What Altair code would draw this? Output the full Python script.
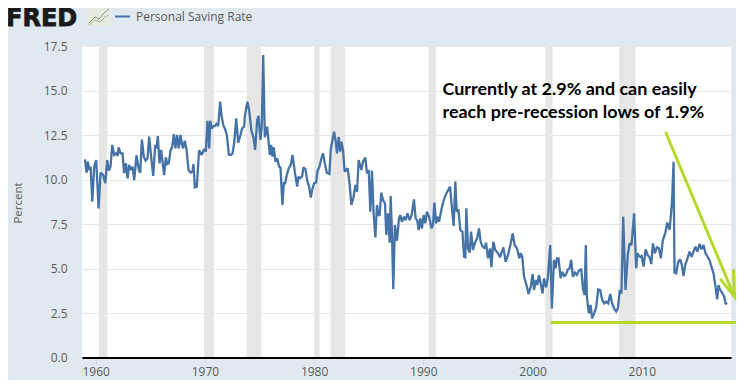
import altair as alt
import pandas as pd

years_a = [1959.02,1959.17,1959.29,1959.41,1959.54,1959.69,1959.87,1960.05,1960.27,1960.45,1960.69,1960.88,1961.06,1961.21,1961.36,1961.52,1961.70,1961.88,1962.01,1962.10,1962.28,1962.46,1962.61,1962.77,1962.92,1963.07,1963.22,1963.38,1963.53,1963.74,1963.96,1964.08,1964.23,1964.41,1964.57,1964.75,1964.90,1965.08,1965.27,1965.45,1965.57,1965.69,1965.85,1966.00,1966.27,1966.43,1966.55,1966.70,1966.85,1967.01,1967.16,1967.31,1967.46,1967.61,1967.77,1967.89,1968.01,1968.16,1968.32,1968.50,1968.71,1968.86,1968.96,1969.08,1969.26,1969.47,1969.69,1969.90,1970.00]
rates_a = [11.13,10.38,11.0,10.53,10.72,8.76,10.72,11.09,8.38,10.38,10.25,9.79,11.09,10.5,10.72,11.94,11.38,11.47,11.32,11.81,11.47,11.47,10.35,10.91,10.07,10.82,10.53,10.72,9.97,11.36,10.53,10.38,12.25,11.28,11.06,11.19,12.41,11.28,10.2,11.94,11.75,12.44,10.91,11.66,10.25,11.25,10.87,10.91,11.62,11.84,12.55,11.75,12.5,11.75,12.5,12.03,11.75,12.18,11.69,10.53,10.38,10.44,10.87,9.56,9.6,11.66,11.38,11.66,11.69]

years_b = [1970.09,1970.24,1970.40,1970.49,1970.64,1970.76,1970.91,1971.07,1971.22,1971.40,1971.52,1971.68,1971.83,1972.01,1972.20,1972.38,1972.53,1972.68,1972.87,1973.05,1973.26,1973.41,1973.60,1973.66,1973.78,1973.90,1974.05,1974.27,1974.45,1974.60,1974.79,1974.91,1975.09,1975.21,1975.34,1975.49,1975.70,1975.95,1976.07,1976.19,1976.31,1976.46,1976.62,1976.80,1976.92,1977.10,1977.23,1977.35,1977.50,1977.68,1977.87,1978.02,1978.23,1978.45,1978.57,1978.72,1978.90,1979.02,1979.21,1979.39,1979.54,1979.70,1979.82,1980.00,1980.18,1980.30,1980.49,1980.67,1980.82,1980.98,1981.16,1981.40,1981.52,1981.68,1981.83]
rates_b = [11.56,13.3,11.75,13.3,12.87,13.0,13.0,13.12,13.0,14.37,13.62,13.06,12.87,12.5,11.38,11.38,11.47,12.03,13.44,12.07,12.5,12.87,12.97,13.53,14.0,14.37,13.9,12.69,12.37,11.66,13.34,13.57,12.22,12.97,17.0,12.37,12.97,11.38,11.94,11.28,11.81,11.0,11.19,10.72,10.68,8.57,9.79,9.79,10.25,10.63,10.82,11.38,10.44,9.6,10.16,10.07,10.16,10.68,10.57,9.88,9.6,8.98,9.41,9.79,9.82,10.44,10.72,11.19,11.47,10.91,10.38,10.31,11.66,12.22,12.69]

years_c = [1981.98,1982.10,1982.25,1982.40,1982.50,1982.65,1982.80,1982.95,1983.08,1983.26,1983.41,1983.59,1983.78,1983.93,1984.08,1984.33,1984.48,1984.69,1984.84,1985.00,1985.15,1985.30,1985.45,1985.61,1985.76,1985.88,1986.00,1986.15,1986.31,1986.49,1986.61,1986.76,1986.92,1987.01,1987.13,1987.25,1987.40,1987.59,1987.77,1987.89,1988.04,1988.23,1988.38,1988.56,1988.75,1988.93,1989.14,1989.30,1989.45,1989.57,1989.72,1989.87,1990.03,1990.18,1990.33,1990.51]
rates_c = [12.12,11.47,12.40,11.56,12.12,11.65,10.44,10.53,10.63,9.69,8.57,8.94,9.69,9.32,11.09,10.53,11.0,11.24,10.34,10.53,8.19,10.5,8.1,6.75,8.57,8.0,8.0,9.26,8.85,8.66,6.88,8.1,6.45,9.07,6.97,3.83,7.44,6.56,7.82,8.0,7.63,7.91,7.72,8.1,7.72,8.0,8.88,7.82,7.69,7.16,7.82,7.25,8.0,7.54,8.19,7.91]

years_d = [1990.56,1990.74,1990.89,1991.01,1991.17,1991.29,1991.44,1991.59,1991.75,1991.93,1992.11,1992.45,1992.63,1992.78,1992.93,1993.06,1993.21,1993.39,1993.58,1993.73,1993.85,1993.94,1994.09,1994.25,1994.37,1994.55,1994.70,1994.92,1995.10,1995.25,1995.40,1995.62,1995.74,1995.92,1996.11,1996.23,1996.41,1996.59,1996.84,1997.02,1997.33,1997.54,1997.75,1997.97,1998.18,1998.36,1998.58,1998.79,1998.91,1999.06,1999.22,1999.40,1999.64,1999.83,2000.01,2000.13,2000.31,2000.43,2000.59,2000.77,2000.92,2001.05]
rates_d = [7.82,7.26,7.45,8.7,7.54,7.91,7.63,8.1,8.57,8.94,9.22,9.6,8.29,7.39,9.88,8.19,8.32,7.16,7.07,5.66,5.63,8.38,6.13,5.89,7.07,6.04,6.41,6.69,7.26,6.5,6.26,6.13,6.45,5.57,6.13,5.07,6.5,6.04,5.85,5.63,6.19,5.38,5.75,6.32,6.97,6.32,6.13,5.57,5.85,5.66,4.54,4.17,3.57,3.98,4.69,3.79,4.35,4.07,4.63,4.07,3.6,4.44]

years_e = [2001.25,2001.41,2001.62,2001.77,2001.96,2002.11,2002.23,2002.38,2002.57,2002.72,2002.90,2003.08,2003.24,2003.39,2003.54,2003.69,2003.88,2004.06,2004.24,2004.46,2004.61,2004.76,2004.88,2004.97,2005.16,2005.31,2005.46,2005.64,2005.83,2006.01,2006.19,2006.38,2006.56,2006.74,2006.93,2007.11,2007.29,2007.47,2007.66,2007.81,2007.99,2008.14,2008.30,2008.51,2008.72,2008.88,2009.06,2009.30,2009.49,2009.61,2009.79]
rates_e = [3.94,4.54,6.32,2.76,5.48,5.01,5.57,5.57,4.45,4.82,4.54,4.69,4.95,5.01,5.48,4.54,4.77,4.64,4.88,4.95,3.89,3.51,6.32,3.42,2.48,2.95,2.2,2.48,2.82,3.83,3.79,3.23,3.04,3.14,3.04,3.57,3.04,2.76,2.58,2.76,3.79,3.6,7.91,3.79,5.76,6.41,6.32,8.1,5.01,5.85,5.67]

years_f = [2009.86,2009.98,2010.17,2010.35,2010.53,2010.71,2010.87,2011.02,2011.20,2011.38,2011.57,2011.75,2011.93,2012.15,2012.33,2012.54,2012.70,2012.79,2012.91,2013.00,2013.15,2013.34,2013.52,2013.67,2013.82,2013.98,2014.16,2014.37,2014.56,2014.74,2014.92,2015.10,2015.29,2015.47,2015.65,2015.84,2016.02,2016.20,2016.38,2016.57,2016.75,2016.90,2017.02,2017.18,2017.36,2017.54,2017.67,2017.82]
rates_f = [5.66,5.70,5.10,6.08,5.76,5.63,5.25,6.41,5.85,6.19,6.13,5.57,6.60,6.98,7.58,7.17,8.19,9.04,10.99,4.77,4.73,5.38,5.51,5.2,4.58,5.2,5.51,5.95,5.66,5.95,6.23,5.95,6.38,6.08,6.32,5.85,5.66,5.48,5.1,4.73,3.98,3.27,4.07,3.79,3.65,3.42,3.05,2.99]

rec_start = [1960.29,1969.92,1973.83,1980.0,1981.5,1990.5,2001.17,2007.92]
rec_end = [1961.08,1970.83,1975.17,1980.5,1982.83,1991.17,2001.83,2009.42]
x_ticks = [1960,1970,1980,1990,2000,2010]
y_ticks = [0,2.5,5,7.5,10,12.5,15,17.5]

years = years_a + years_b + years_c + years_d + years_e + years_f
rates = rates_a + rates_b + rates_c + rates_d + rates_e + rates_f
series = pd.DataFrame({"year": years, "rate": rates, "order": range(len(years))})
recessions = pd.DataFrame({"start": rec_start, "end": rec_end})

BG = "#e1e9f0"
GREEN = "#b4d92b"
LINE = "#4572a7"
XD = [1958.75, 2018.17]
x_s = alt.Scale(domain=XD, nice=False, zero=False)
y_s = alt.Scale(domain=[0, 17.5], nice=False, zero=False)

x_axis = alt.Axis(
    values=x_ticks, format="d", title=None, grid=False, domainColor="#000000", domainWidth=2,
    tickColor="#d0d6da", tickSize=6, labelFont="Open Sans", labelFontSize=12, labelColor="#595959",
    labelPadding=3, zindex=1, labelFlush=False)
y_axis = alt.Axis(
    values=y_ticks, format=".1f", title=None, domain=False, ticks=False, gridColor="#e6e6e6",
    labelFont="Open Sans", labelFontSize=12, labelColor="#595959", labelPadding=15)

band = alt.Chart(recessions).mark_rect(color="#e6e6e6").encode(
    x=alt.X("start:Q", scale=x_s, axis=x_axis), x2="end:Q")

main = alt.Chart(series).mark_line(color=LINE, strokeWidth=2.3, strokeJoin="miter", strokeMiterLimit=2).encode(
    x=alt.X("year:Q", scale=x_s, axis=x_axis),
    y=alt.Y("rate:Q", scale=y_s, axis=y_axis),
    order="order:Q")


def data_line(xs, ys, color, width):
    d = pd.DataFrame({"x": xs, "y": ys, "o": range(len(xs))})
    return alt.Chart(d).mark_line(color=color, strokeWidth=width, clip=False).encode(
        x=alt.X("x:Q", scale=x_s, axis=x_axis), y=alt.Y("y:Q", scale=y_s, axis=y_axis), order="o:Q")


floor = data_line([2001.66, 2019.4], [1.97, 1.97], GREEN, 3)
arrow = data_line([2012.18, 2018.49], [12.67, 3.41], GREEN, 3)
head = data_line([2018.40, 2018.49, 2017.18], [4.96, 3.41, 4.42], GREEN, 3)


def text(s, x, y, **kw):
    return alt.Chart(pd.DataFrame({"a": [0]})).mark_text(align="left", baseline="alphabetic", **kw).encode(
        x=alt.value(x), y=alt.value(y), text=alt.value(s))


OX, OY = 82, 46
note1 = text("Currently at 2.9% and can easily", 442.5 - OX, 95 - OY, font="Lato", fontWeight="bold", fontSize=17.95, color="#000000")
note2 = text("reach pre-recession lows of 1.9%", 442.5 - OX, 118 - OY, font="Lato", fontWeight="bold", fontSize=17.95, color="#000000")
logo = text("FRED", 6 - OX, 26 - OY, font="DejaVu Sans", fontWeight="bold", fontSize=24, color="#1a1a1a", stroke="#1a1a1a", strokeWidth=0.8)
legend_label = text("Personal Saving Rate", 136 - OX, 21 - OY, font="Open Sans", fontSize=12, color="#595959")
y_title = alt.Chart(pd.DataFrame({"a": [0]})).mark_text(angle=270, align="center", baseline="middle", font="Open Sans", fontSize=11.5, color="#595959").encode(
    x=alt.value(19 - OX), y=alt.value(203 - OY), text=alt.value("Percent"))

# Small header decorations, placed through the same scales as the chart.
PX = (XD[1] - XD[0]) / 649
PY = 17.5 / 311.5


def header_line(pts, color, width):
    xs = [XD[0] + (p[0] - OX) * PX for p in pts]
    ys = [(357.5 - p[1]) * PY for p in pts]
    return data_line(xs, ys, color, width)


icon_box = alt.Chart(pd.DataFrame({"a": [0]})).mark_rect(color="#e8ebdf", clip=False).encode(
    x=alt.value(88 - OX), x2=alt.value(110 - OX), y=alt.value(8 - OY), y2=alt.value(26 - OY))
icon_a = header_line([(89, 23), (95, 17), (99, 19), (104, 13), (109, 9)], "#7f9a77", 1)
icon_b = header_line([(89, 25), (95, 20), (100, 22), (105, 17), (109, 15)], "#a8b79f", 1)
legend_line = header_line([(115, 16.5), (130, 16.5)], LINE, 2)

chart = alt.layer(
    band, main, floor, arrow, head, note1, note2, logo, legend_label, y_title,
    icon_box, icon_a, icon_b, legend_line
).properties(
    width=649, height=311.5, background=BG,
    autosize=alt.AutoSizeParams(type="none"),
    padding={"left": 74, "top": 38, "right": 5, "bottom": 22},
).configure_view(fill="#ffffff", stroke=None)

chart.save("out.html", embed_options={"renderer": "svg", "actions": False})
